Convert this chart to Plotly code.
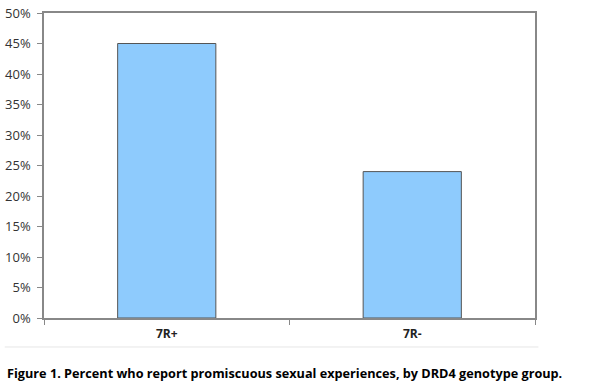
import plotly.graph_objects as go

categories = ["7R+", "7R-"]
values = [45, 24]
tick_vals = [0, 5, 10, 15, 20, 25, 30, 35, 40, 45, 50]
tick_text = [f"{v}%" for v in tick_vals]
caption = "Figure 1. Percent who report promiscuous sexual experiences, by DRD4 genotype group."

fig = go.Figure(go.Bar(
    x=categories, y=values, width=0.4,
    marker=dict(color="#8ECBFD", line=dict(color="#555555", width=1)),
    hoverinfo="skip",
))

fig.update_layout(
    width=596, height=381,
    margin=dict(l=44, r=61, t=13, b=63),
    paper_bgcolor="white", plot_bgcolor="white",
    showlegend=False,
    font=dict(family="Open Sans, sans-serif", color="#222222"),
)
fig.update_yaxes(
    range=[0, 50], tickvals=tick_vals, ticktext=tick_text,
    showgrid=False, zeroline=False, automargin=False,
    showline=True, mirror=True, linecolor="#888888", linewidth=1.5,
    ticks="outside", ticklen=5, tickcolor="#888888", ticklabelstandoff=4,
    tickfont=dict(size=13, color="#333333"),
)
fig.update_xaxes(
    showgrid=False, showline=True, mirror=True, linecolor="#888888", linewidth=1.5,
    automargin=False,
    ticks="outside", ticklen=5, tickcolor="#888888", tickson="boundaries",
    ticklabelstandoff=4,
    tickfont=dict(size=12, color="#222222", family="Open Sans, sans-serif"),
)
fig.update_xaxes(tickvals=categories, ticktext=[f"<b>{c}</b>" for c in categories])

fig.add_shape(type="line", xref="paper", yref="paper",
              x0=-0.08, x1=1.007, y0=-0.095, y1=-0.095,
              line=dict(color="#e6e6e6", width=1))
fig.add_annotation(text=f"<b>{caption}</b>", xref="paper", yref="paper",
                   x=-0.08, y=-0.18, xanchor="left", yanchor="middle",
                   showarrow=False, font=dict(size=12.7, color="#000000"))

fig.write_html("out.html", config={"displayModeBar": False},
               post_script="document.body.style.margin='0px';")
